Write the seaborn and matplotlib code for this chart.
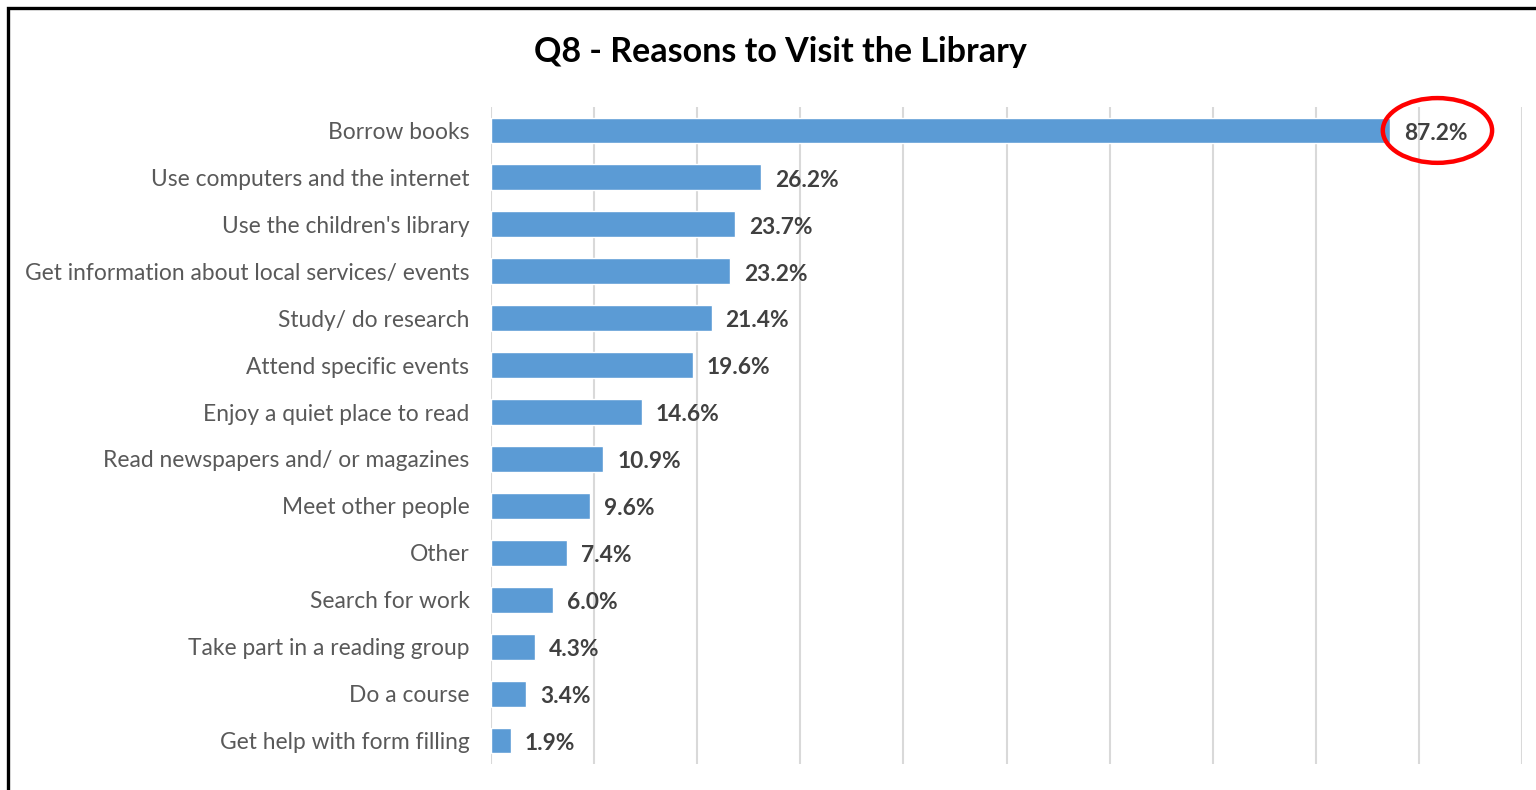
import matplotlib
matplotlib.use("Agg")
import matplotlib.pyplot as plt
from matplotlib.patches import Ellipse, Rectangle
import seaborn as sns
import pandas as pd

reasons = [
    "Borrow books",
    "Use computers and the internet",
    "Use the children's library",
    "Get information about local services/ events",
    "Study/ do research",
    "Attend specific events",
    "Enjoy a quiet place to read",
    "Read newspapers and/ or magazines",
    "Meet other people",
    "Other",
    "Search for work",
    "Take part in a reading group",
    "Do a course",
    "Get help with form filling",
]
percent = [87.2, 26.2, 23.7, 23.2, 21.4, 19.6, 14.6, 10.9, 9.6, 7.4, 6.0, 4.3, 3.4, 1.9]
x_ticks = [0, 10, 20, 30, 40, 50, 60, 70, 80, 90, 100]

df = pd.DataFrame({"reason": reasons, "percent": percent})

sns.set_theme(style="white")
plt.rcParams["font.family"] = ["Lato", "DejaVu Sans"]

fig = plt.figure(figsize=(15.36, 7.9), dpi=100)
ax = fig.add_axes([491 / 1536, 1 - 764 / 790, (1522 - 491) / 1536, (764 - 107) / 790])

sns.barplot(data=df, y="reason", x="percent", orient="h", color="#5B9BD5",
            saturation=1, width=0.55, ax=ax)

ax.set_xlim(0, 100)
ax.set_ylim(len(reasons) - 0.5, -0.5)
ax.set_xticks(x_ticks)
ax.set_xticklabels([])
ax.xaxis.grid(True, color="#D9D9D9", linewidth=1.5)
ax.set_axisbelow(True)
for side in ax.spines.values():
    side.set_visible(False)
ax.tick_params(axis="both", length=0)
ax.tick_params(axis="y", pad=15.5, labelsize=16.4, labelcolor="#595959")
ax.set_xlabel("")
ax.set_ylabel("")

value_labels = ax.bar_label(ax.containers[0], labels=[f"{v:.1f}%" for v in percent],
                            padding=10, fontsize=16.4, fontweight="bold", color="#404040")
# nudge the value labels slightly down so the digits sit on the bar centre
for lbl in value_labels:
    lbl.xyann = (lbl.xyann[0], -2)

# highlight around the top value
ax.add_patch(Ellipse((91.8, 0), 10.6, 1.38, fill=False, edgecolor="#FF0000",
                     linewidth=3.2, clip_on=False))

fig.text(780 / 1536, 1 - 52 / 790, "Q8 - Reasons to Visit the Library", ha="center",
         va="center", fontsize=24.5, fontweight="bold", color="#000000")

# frame
fig.patches.append(Rectangle((8 / 1536, -0.05), 1.1, 1 - 8 / 790 + 0.05,
                             transform=fig.transFigure, fill=False,
                             edgecolor="black", linewidth=2.4))

fig.savefig("out.png", dpi=100)
